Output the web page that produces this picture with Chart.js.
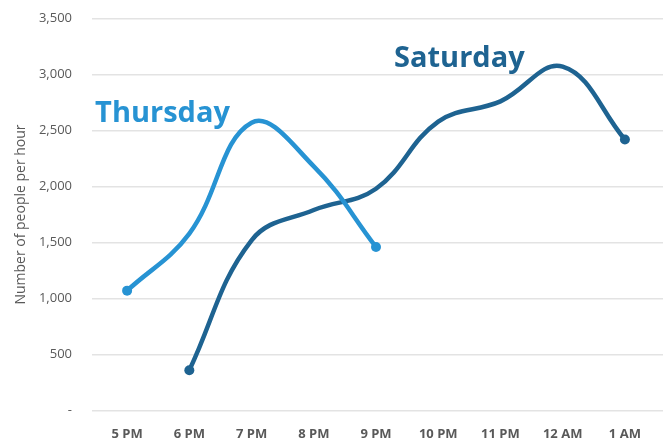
<!DOCTYPE html>
<html>
<head>
<meta charset="utf-8">
<script src="https://cdn.jsdelivr.net/npm/chart.js@4/dist/chart.umd.min.js"></script>
<style>
  html, body { margin: 0; padding: 0; background: #ffffff; }
  #wrap { width: 665px; height: 440px; }
</style>
</head>
<body>
<div id="wrap"><canvas id="c" width="665" height="440"></canvas></div>
<script>
// Hours of the evening
const hours = ['5 PM', '6 PM', '7 PM', '8 PM', '9 PM', '10 PM', '11 PM', '12 AM', '1 AM'];

// People per hour, by night
const thursday = [1070, 1580, 2570, 2180, 1460, null, null, null, null];
const saturday = [null, 360, 1520, 1790, 1980, 2580, 2760, 3070, 2420];

// Value axis ticks
const yTicks = [0, 500, 1000, 1500, 2000, 2500, 3000, 3500];

const THU_COLOR = '#2793d3';
const SAT_COLOR = '#1e6391';
const GRID = '#e3e3e3';
const TEXT = '#595959';

// Dots only at the ends of each series
function endDot(ctx) {
  const data = ctx.dataset.data;
  let first = -1, last = -1;
  data.forEach((v, i) => { if (v !== null) { if (first < 0) first = i; last = i; } });
  return (ctx.dataIndex === first || ctx.dataIndex === last) ? 5 : 0;
}

// Series names written beside their lines
const seriesNames = {
  id: 'seriesNames',
  afterDatasetsDraw(chart) {
    const { ctx, scales } = chart;
    ctx.save();
    ctx.font = 'bold 29px "Open Sans"';
    ctx.textBaseline = 'alphabetic';
    ctx.textAlign = 'left';
    ctx.fillStyle = THU_COLOR;
    ctx.fillText('Thursday', scales.x.getPixelForValue(0) - 32, scales.y.getPixelForValue(2576));
    ctx.fillStyle = SAT_COLOR;
    ctx.fillText('Saturday', scales.x.getPixelForValue(4) + 18, scales.y.getPixelForValue(3070));
    ctx.restore();
  }
};

new Chart(document.getElementById('c'), {
  type: 'line',
  data: {
    labels: hours,
    datasets: [
      {
        label: 'Thursday',
        data: thursday,
        borderColor: THU_COLOR,
        backgroundColor: THU_COLOR,
        borderWidth: 4.5,
        tension: 0.4,
        pointRadius: endDot,
        pointHoverRadius: endDot,
        pointBorderWidth: 0,
        spanGaps: false
      },
      {
        label: 'Saturday',
        data: saturday,
        borderColor: SAT_COLOR,
        backgroundColor: SAT_COLOR,
        borderWidth: 4.5,
        tension: 0.4,
        pointRadius: endDot,
        pointHoverRadius: endDot,
        pointBorderWidth: 0,
        spanGaps: false
      }
    ]
  },
  options: {
    responsive: false,
    animation: false,
    events: [],
    layout: { padding: { top: 18.5, right: 2, left: 0, bottom: 0 } },
    plugins: {
      legend: { display: false },
      tooltip: { enabled: false }
    },
    scales: {
      x: {
        offset: true,
        grid: { display: false, drawTicks: false },
        border: { display: false },
        ticks: {
          color: TEXT,
          padding: 16,
          maxRotation: 0,
          font: { family: '"Open Sans"', size: 13, weight: 'bold' }
        },
        afterFit(scale) { scale.height = 29.5; }
      },
      y: {
        min: 0,
        max: 3500,
        afterBuildTicks(scale) { scale.ticks = yTicks.map(v => ({ value: v })); },
        grid: { color: GRID, lineWidth: 1.5, drawTicks: true, tickLength: 4, tickColor: GRID },
        border: { display: false },
        ticks: {
          color: TEXT,
          padding: 20,
          font: { family: '"Open Sans"', size: 13 },
          callback: v => v === 0 ? '-' : v.toLocaleString('en-US')
        },
        title: {
          display: true,
          text: 'Number of people per hour',
          color: TEXT,
          font: { family: '"Open Sans"', size: 14 },
          padding: { top: 13, bottom: 0 }
        },
        afterFit(scale) {
          scale.width = 96;
          scale.paddingTop = 0;
          scale.paddingBottom = 0;
        }
      },
      y2: {
        position: 'right',
        min: 0,
        max: 3500,
        afterBuildTicks(scale) { scale.ticks = yTicks.map(v => ({ value: v })); },
        grid: { drawOnChartArea: false, drawTicks: true, tickLength: 7, tickColor: GRID, lineWidth: 1.5 },
        border: { display: false },
        ticks: { display: false },
        afterFit(scale) {
          scale.width = 7;
          scale.paddingTop = 0;
          scale.paddingBottom = 0;
        }
      }
    }
  },
  plugins: [seriesNames]
});
</script>
</body>
</html>
